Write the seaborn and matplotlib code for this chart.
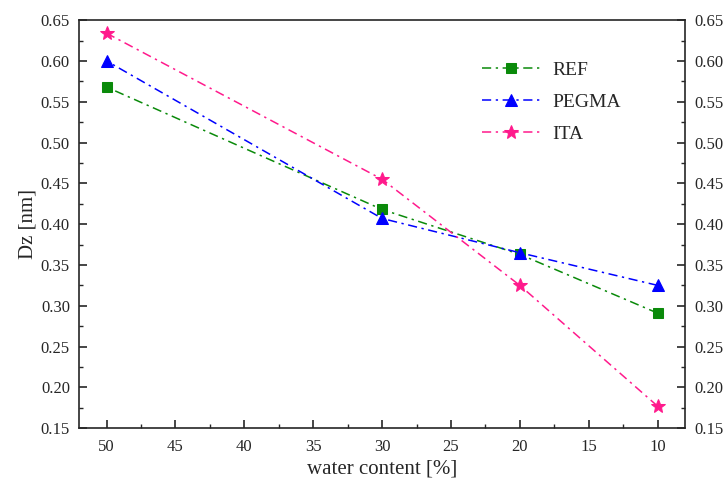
import matplotlib
matplotlib.use("Agg")
import matplotlib.pyplot as plt
import seaborn as sns
import pandas as pd
from matplotlib.ticker import MultipleLocator

water = [50, 30, 20, 10]
ref = [0.568, 0.418, 0.363, 0.291]
pegma = [0.600, 0.407, 0.365, 0.325]
ita = [0.634, 0.455, 0.325, 0.177]

sns.set_style("ticks")
plt.rcParams['font.family'] = ['Liberation Serif', 'DejaVu Serif']

fig = plt.figure(figsize=(7.25, 4.8), dpi=100)
ax = fig.add_axes([0.109, 0.108, 0.836, 0.850])

series = [("REF", ref, "#0a8a0a", "s", 7),
          ("PEGMA", pegma, "#0000ff", "^", 9),
          ("ITA", ita, "#ff1a8c", "*", 10)]
for name, vals, col, mk, ms in series:
    df = pd.DataFrame({"water": water, "Dz": vals})
    sns.lineplot(data=df, x="water", y="Dz", ax=ax, color=col, marker=mk,
                 markersize=ms, markeredgecolor=col, linestyle=(0, (6, 3, 1.5, 3)),
                 linewidth=1.1, label=name)

ax.set_xlim(52, 8)
ax.set_ylim(0.15, 0.65)
ax.xaxis.set_major_locator(MultipleLocator(5))
ax.xaxis.set_minor_locator(MultipleLocator(2.5))
ax.yaxis.set_major_locator(MultipleLocator(0.05))
ax.yaxis.set_minor_locator(MultipleLocator(0.025))
ax.yaxis.set_major_formatter(matplotlib.ticker.FormatStrFormatter('%.2f'))
ax.tick_params(which='major', direction='in', length=6, width=1.2, labelsize=12, pad=6.5)
ax.tick_params(axis='x', which='major', pad=8)
ax.tick_params(which='minor', direction='in', length=3, width=1.0)
ax.tick_params(axis='y', which='both', right=True, labelright=True)
ax.tick_params(axis='x', which='both', top=False)
for s in ax.spines.values():
    s.set_linewidth(1.2)
    s.set_visible(True)
ax.set_xlabel("water content [%]", fontsize=15, labelpad=3)
ax.set_ylabel("Dz [nm]", fontsize=15, labelpad=2)

leg = ax.legend(loc='upper left', bbox_to_anchor=(0.665, 0.9), frameon=False,
                borderpad=0, borderaxespad=0,
                fontsize=14, handlelength=3.0, handletextpad=0.6, labelspacing=0.75)

fig.savefig("out.png", dpi=100)
